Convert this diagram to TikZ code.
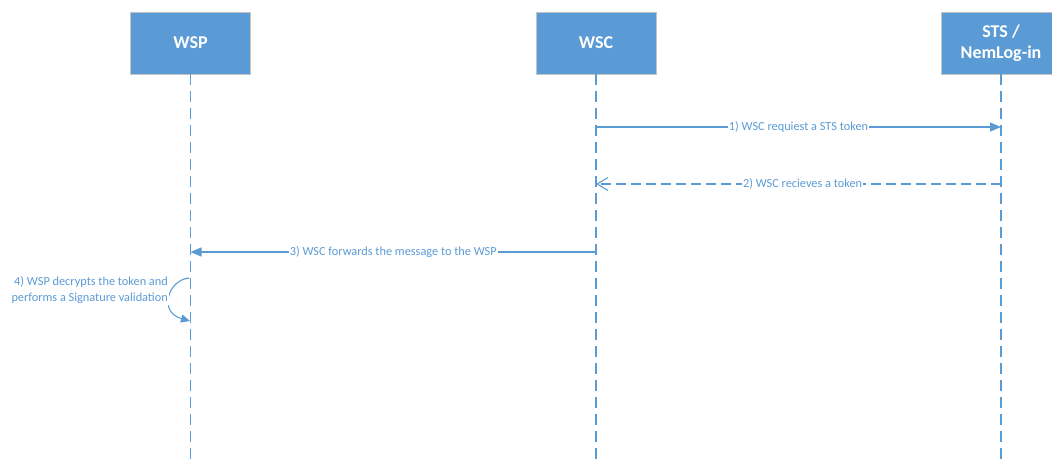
\documentclass[tikz,border=0pt]{standalone}
\usepackage{fontspec}
\setmainfont{Carlito}
\usetikzlibrary{arrows.meta}
\definecolor{mblue}{HTML}{5B9BD5}
\definecolor{mborder}{HTML}{C4C4C4}
\begin{document}
\begin{tikzpicture}[x=1pt,y=-1pt,
  actor/.style={draw=mborder, fill=mblue, minimum width=120pt, minimum height=62pt,
    text=white, font=\fontsize{18}{21}\selectfont\bfseries, align=center, inner sep=0pt, line width=0.8pt},
  lifeline/.style={draw=mblue, line width=1.2pt, dash pattern=on 11pt off 6pt},
  msg/.style={draw=mblue, line width=1.1pt},
  dmsg/.style={draw=mblue, line width=1.1pt, dash pattern=on 10pt off 5pt},
  lbl/.style={fill=white, text=mblue, font=\fontsize{12.3}{16}\selectfont, inner sep=1pt},
  fill tip/.style={-{Triangle[length=11pt,width=9pt,fill=mblue]}},
  open tip/.style={-{Straight Barb[length=11pt,width=13pt]}}
]
\useasboundingbox (0,0) rectangle (1052,459);
\fill[white] (0,0) rectangle (1052,459);

\node[actor] (wsp) at (190.5,43) {WSP};
\node[actor] (wsc) at (596,43) {WSC};
\node[actor] (sts) at (1001,43) {STS /\\NemLog-in};

\coordinate (wspend) at (190.5,459);
\coordinate (wscend) at (596,459);
\coordinate (stsend) at (1001,459);
\draw[lifeline] (wsp.south) -- (wspend);
\draw[lifeline] (wsc.south) -- (wscend);
\draw[lifeline] (sts.south) -- (stsend);

\coordinate (m1a) at (596,127);
\coordinate (m1b) at (1001,127);
\draw[msg, fill tip] (m1a) -- node[lbl] (t1) {1) WSC requiest a STS token} (m1b);

\coordinate (m2a) at (1001,184);
\coordinate (m2b) at (596,184);
\draw[dmsg, open tip] (m2a) -- node[lbl, pos=0.49] (t2) {2) WSC recieves a token} (m2b);

\coordinate (m3a) at (596,252);
\coordinate (m3b) at (190.5,252);
\draw[msg, fill tip] (m3a) -- node[lbl] (t3) {3) WSC forwards the message to the WSP} (m3b);

\coordinate (l1) at (189,278);
\coordinate (l2) at (190,321);
\draw[msg, -{Triangle[length=9pt,width=8pt,fill=mblue]}] (l1) .. controls (168,280) and (158,312) .. (l2);
\node[lbl, align=right, anchor=east] (t4) at (169,290) {4) WSP decrypts the token and\\performs a Signature validation};
\end{tikzpicture}
\end{document}
